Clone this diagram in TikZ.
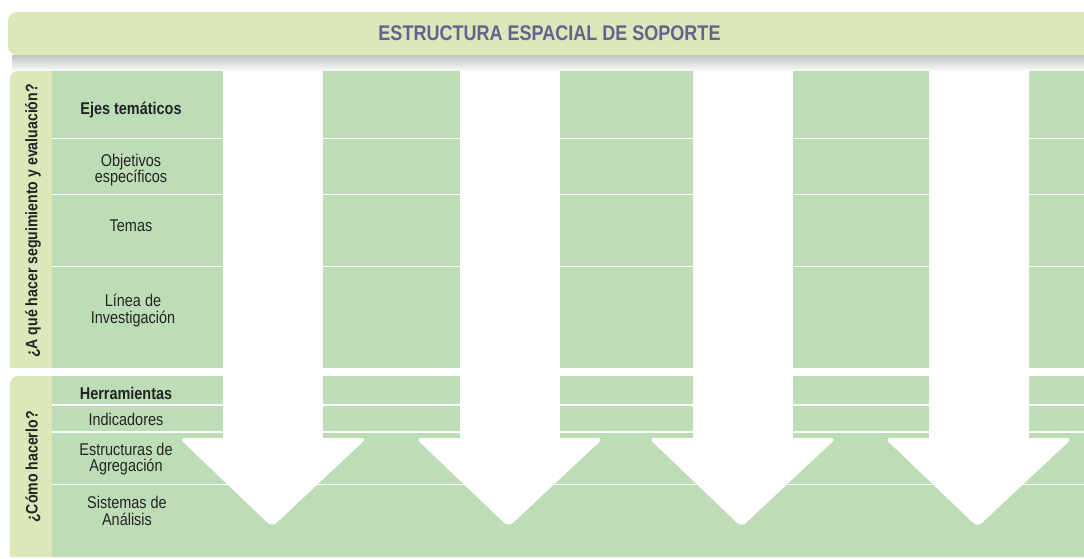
\documentclass[tikz,border=0pt]{standalone}
\usepackage{fontspec}
\setmainfont{Liberation Sans}[FakeStretch=0.85]
\definecolor{barc}{RGB}{220,232,185}
\definecolor{cellc}{RGB}{189,221,183}
\definecolor{titlec}{RGB}{99,99,143}
\definecolor{txt}{RGB}{35,35,35}
\begin{document}
\begin{tikzpicture}[x=1pt,y=-1pt,
  lbl/.style={font=\fontsize{17}{16.4}\selectfont, text=txt, align=center, inner sep=0pt, anchor=base},
  lblb/.style={lbl, font=\fontsize{17}{16.4}\selectfont\bfseries},
  side/.style={font=\fontsize{16.6}{16}\selectfont\bfseries, text=txt, rotate=90, inner sep=0pt},
  sepline/.style={draw=white, line width=1.3pt},
  shaftbox/.style={fill=white},
  headbox/.style={fill=white, rounded corners=6pt}]
\useasboundingbox (0,0) rectangle (1084,558);
\fill[white] (0,0) rectangle (1084,558);
% shadow of the title bar
\shade[top color=black!24, bottom color=white] (12,55) rectangle (1084,72);
% title bar
\fill[barc] (1084,12) [rounded corners=9pt] -- (8,12) -- (8,55) [sharp corners] -- (1084,55) -- cycle;
\node[font=\fontsize{21.2}{21}\selectfont\bfseries, text=titlec, inner sep=0pt] (title) at (549.5,33.4) {ESTRUCTURA ESPACIAL DE SOPORTE};
% side panels
\fill[barc] (52,71) [rounded corners=8pt] -- (10,71) [sharp corners] -- (10,368) -- (52,368) -- cycle;
\fill[barc] (52,376) [rounded corners=8pt] -- (10,376) [sharp corners] -- (10,557) -- (52,557) -- cycle;
% green bands
\fill[cellc] (52,71) rectangle (1084,368);
\fill[cellc] (52,376) rectangle (1084,557);
% row separators
\foreach \yy in {138.5,194.5,266.5,405,432,484.5}
  \draw[sepline] (52,\yy) -- (1084,\yy);
% arrows
\foreach \c in {273,509.5,742.5,978.5}{
  \fill[shaftbox] (\c-50,71) rectangle (\c+50,445);
  \fill[headbox] (\c-94,438) -- (\c+94,438) -- (\c-1,527) -- cycle;
}
% side labels
\node[side] (q1) at (33,221) {¿A qué hacer seguimiento y evaluación?};
\node[side] (q2) at (33,467) {¿Cómo hacerlo?};
% row labels (base = baseline of last line)
\node[lblb] (ejes) at (131,114.5) {Ejes temáticos};
\node[lbl] (obj) at (131,182.7) {Objetivos\\específicos};
\node[lbl] (temas) at (131,231.7) {Temas};
\node[lbl] (linea) at (133,323.3) {Línea de\\Investigación};
\node[lblb] (herr) at (126,399) {Herramientas};
\node[lbl] (ind) at (126,425) {Indicadores};
\node[lbl] (estr) at (126,471.7) {Estructuras de\\Agregación};
\node[lbl] (sist) at (127,525) {Sistemas de\\Análisis};
\end{tikzpicture}
\end{document}
